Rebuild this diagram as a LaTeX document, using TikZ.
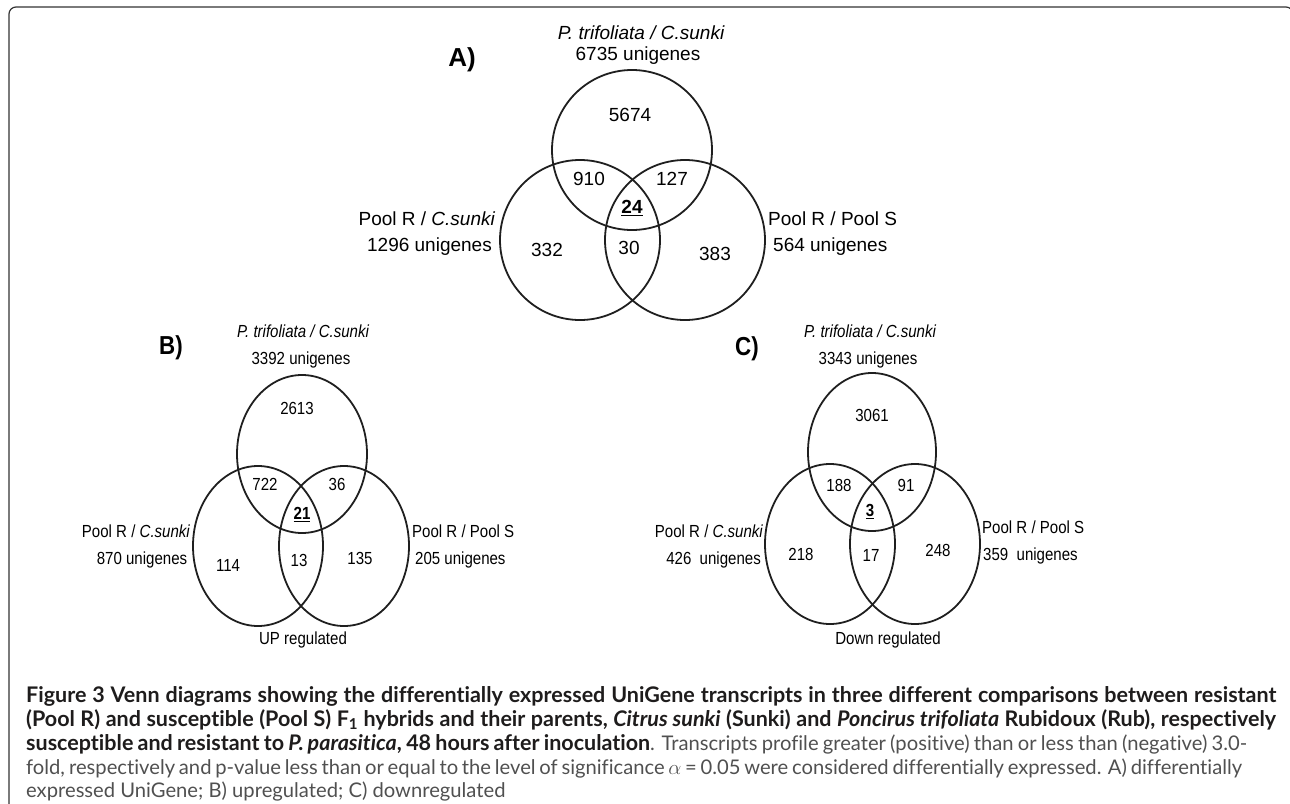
\documentclass[tikz,border=0pt]{standalone}
\usepackage{fontspec}
\usepackage{tikz}
\newfontfamily\vennfont{Liberation Sans}
\newfontfamily\capfont[Ligatures=NoCommon]{Lato}
\definecolor{capgray}{RGB}{80,80,80}
\definecolor{capblack}{RGB}{30,28,28}
\newcommand{\squeeze}[0]{0.86}
\newcommand{\plain}[0]{\mdseries\upshape\fontsize{20.2}{24}\selectfont\color{capgray}}

\begin{document}
\begin{tikzpicture}[x=1pt, y=-1pt]
  \tikzset{ring/.style={draw=black!88, line width=1.8pt},
    bigtxt/.style={font=\vennfont\fontsize{19}{22}\selectfont, inner sep=0pt, text height=.72em, text depth=0pt},
    smalltxt/.style={font=\vennfont\fontsize{17.5}{20}\selectfont, inner sep=0pt, text height=.72em, text depth=0pt, xscale=\squeeze},
    panel/.style={font=\vennfont\bfseries\fontsize{26}{28}\selectfont, inner sep=0pt, text height=.72em, text depth=0pt},
    capline/.style={font=\capfont\bfseries\fontsize{21.5}{24}\selectfont, text=capblack, inner sep=0pt, anchor=base west}}
  \useasboundingbox (0,0) rectangle (1290,803);
  \draw[line width=1.2pt, draw=black!80, rounded corners=7pt] (9,7) rectangle (1293,812);

  \draw[ring] (632,150) circle (80pt);
  \draw[ring] (580,240) circle (80pt);
  \draw[ring] (685,240) circle (80pt);
  \node[panel] (A) at (462,63) {A)};
  \node[bigtxt] (A-top1) at (641,36) {\itshape P. trifoliata / C.sunki};
  \node[bigtxt] (A-top2) at (638,57) {6735 unigenes};
  \node[bigtxt, anchor=east] (A-left1) at (495,222) {Pool R / \itshape C.sunki};
  \node[bigtxt, anchor=east] (A-left2) at (492,248) {1296 unigenes};
  \node[bigtxt, anchor=west] (A-right1) at (768,222) {Pool R / Pool S};
  \node[bigtxt, anchor=west] (A-right2) at (773,248) {564 unigenes};
  \node[bigtxt] (A-t) at (630,118) {5674};
  \node[bigtxt] (A-tl) at (589,182) {910};
  \node[bigtxt] (A-tr) at (672,182) {127};
  \node[bigtxt] (A-c) at (632,210) {\bfseries\underline{24}};
  \node[bigtxt] (A-l) at (547,253) {332};
  \node[bigtxt] (A-lr) at (629,251) {30};
  \node[bigtxt] (A-r) at (715,257) {383};

  \draw[ring] (302,454) ellipse [x radius=65pt, y radius=79pt];
  \draw[ring] (258,546) ellipse [x radius=65pt, y radius=80pt];
  \draw[ring] (344,546) ellipse [x radius=65pt, y radius=80pt];
  \node[panel, xscale=\squeeze] (B) at (171,351) {B)};
  \node[smalltxt] (B-top1) at (303,334) {\itshape P. trifoliata / C.sunki};
  \node[smalltxt] (B-top2) at (301,361) {3392 unigenes};
  \node[smalltxt, anchor=east] (B-left1) at (190,534) {Pool R / \itshape C.sunki};
  \node[smalltxt] (B-left2) at (142,561) {870 unigenes};
  \node[smalltxt, anchor=west] (B-right1) at (412,534) {Pool R / Pool S};
  \node[smalltxt, anchor=west] (B-right2) at (415,561) {205 unigenes};
  \node[smalltxt] (B-t) at (297,411) {2613};
  \node[smalltxt] (B-tl) at (265,487) {722};
  \node[smalltxt] (B-tr) at (337,487) {36};
  \node[smalltxt] (B-c) at (302,516) {\bfseries\underline{21}};
  \node[smalltxt] (B-l) at (228,568) {114};
  \node[smalltxt] (B-lr) at (299,563) {13};
  \node[smalltxt] (B-r) at (360,561) {135};
  \node[smalltxt] (B-note) at (303,641) {UP regulated};

  \draw[ring] (872,452) ellipse [x radius=64pt, y radius=79pt];
  \draw[ring] (830,544) ellipse [x radius=65pt, y radius=80pt];
  \draw[ring] (915,544) ellipse [x radius=65pt, y radius=80pt];
  \node[panel, xscale=\squeeze] (C) at (747,352) {C)};
  \node[smalltxt] (C-top1) at (870,334) {\itshape P. trifoliata / C.sunki};
  \node[smalltxt] (C-top2) at (868,361) {3343 unigenes};
  \node[smalltxt, anchor=east] (C-left1) at (763,534) {Pool R / \itshape C.sunki};
  \node[smalltxt, anchor=east] (C-left2) at (761,561) {426~~unigenes};
  \node[smalltxt, anchor=west] (C-right1) at (982,530) {Pool R / Pool S};
  \node[smalltxt, anchor=west] (C-right2) at (983,557) {359~~unigenes};
  \node[smalltxt] (C-t) at (872,418) {3061};
  \node[smalltxt] (C-tl) at (839,488) {188};
  \node[smalltxt] (C-tr) at (906,488) {91};
  \node[smalltxt] (C-c) at (870,513) {\bfseries\underline{3}};
  \node[smalltxt] (C-l) at (801,557) {218};
  \node[smalltxt] (C-lr) at (871,558) {17};
  \node[smalltxt] (C-r) at (938,553) {248};
  \node[smalltxt] (C-note) at (888,641) {Down regulated};

  \node[capline] (cap1) at (26,702) {\hbox to 1250pt{Figure 3 Venn diagrams showing the differentially expressed UniGene transcripts in three different comparisons between resistant}};
  \node[capline] (cap2) at (26,726) {\hbox to 1250pt{(Pool R) and susceptible (Pool S) F\textsubscript{1} hybrids and their parents, \textit{Citrus sunki} (Sunki) and \textit{Poncirus trifoliata} Rubidoux (Rub), respectively}};
  \node[capline] (cap3) at (26,750) {\hbox to 1221pt{susceptible and resistant to \textit{P. parasitica}, 48 hours after inoculation{\plain. Transcripts profile greater (positive) than or less than (negative) 3.0-}}};
  \node[capline] (cap4) at (26,774) {\hbox to 1216pt{\plain fold, respectively and p-value less than or equal to the level of significance $\alpha$ = 0.05 were considered differentially expressed. A) differentially}};
  \node[capline] (cap5) at (26,797) {\plain expressed UniGene; B) upregulated; C) downregulated};
\end{tikzpicture}
\end{document}
